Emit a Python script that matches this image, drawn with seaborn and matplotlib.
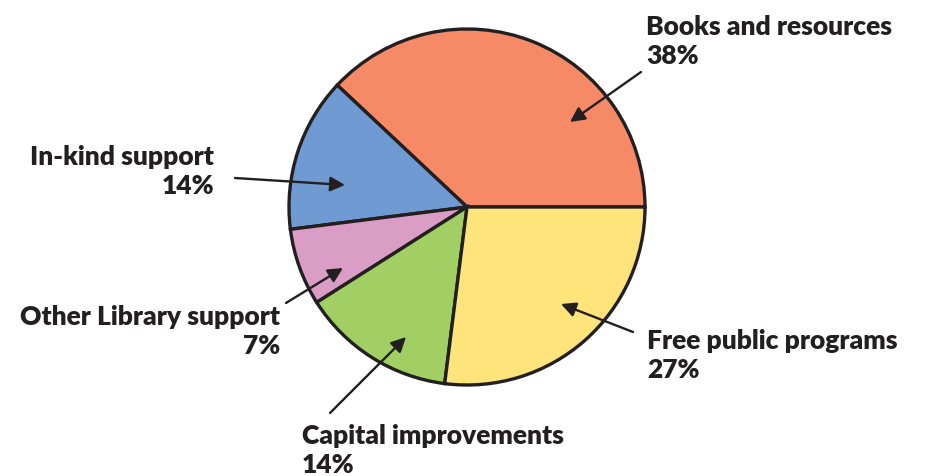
import matplotlib
matplotlib.use("Agg")
import matplotlib.pyplot as plt
import seaborn as sns

categories = ["Books and resources", "In-kind support", "Other Library support",
              "Capital improvements", "Free public programs"]
shares = [38, 14, 7, 14, 27]
colors = ["#F68A66", "#6F9BD2", "#D99DC6", "#A1CF63", "#FEE47B"]

sns.set_theme(style="white")
plt.rcParams['font.family'] = ['Lato', 'DejaVu Sans']
palette = sns.color_palette(colors)

W, H = 926, 476
fig = plt.figure(figsize=(9.26, 4.76), dpi=100)
ax = fig.add_axes([0, 0, 1, 1])

def P(x, y):
    # picture pixel (top-left origin) -> axes data coords
    return (x, H - y)

ax.pie(shares, colors=palette, startangle=0, counterclock=True,
       center=P(467, 207), radius=178,
       wedgeprops=dict(edgecolor="#231F20", linewidth=2.4))
ax.set_xlim(0, W)
ax.set_ylim(0, H)
ax.set_aspect('equal')
ax.axis('off')

txt = "#231F20"
labels = [f"{c}\n{s}%" for c, s in zip(categories, shares)]
# (text pos, ha, arrow tail, arrow head)
spots = [
    ((646, 15), 'left', (641, 72), (570, 122)),
    ((214, 145), 'right', (235, 178), (345, 185)),
    ((280, 305), 'right', (286, 303), (343, 268)),
    ((302, 424), 'left', (330, 413), (406, 337)),
    ((647, 329), 'left', (633, 332), (561, 304)),
]
for lab, (pos, ha, tail, head) in zip(labels, spots):
    ax.text(*P(*pos), lab, ha=ha, va='top', multialignment=ha,
            fontsize=19, fontweight='heavy', color=txt, linespacing=1.25)
    ax.annotate("", xy=P(*head), xytext=P(*tail),
                arrowprops=dict(arrowstyle='-|>', color=txt, lw=1.7,
                                mutation_scale=22, shrinkA=0, shrinkB=0))

fig.savefig("out.png", dpi=100)
